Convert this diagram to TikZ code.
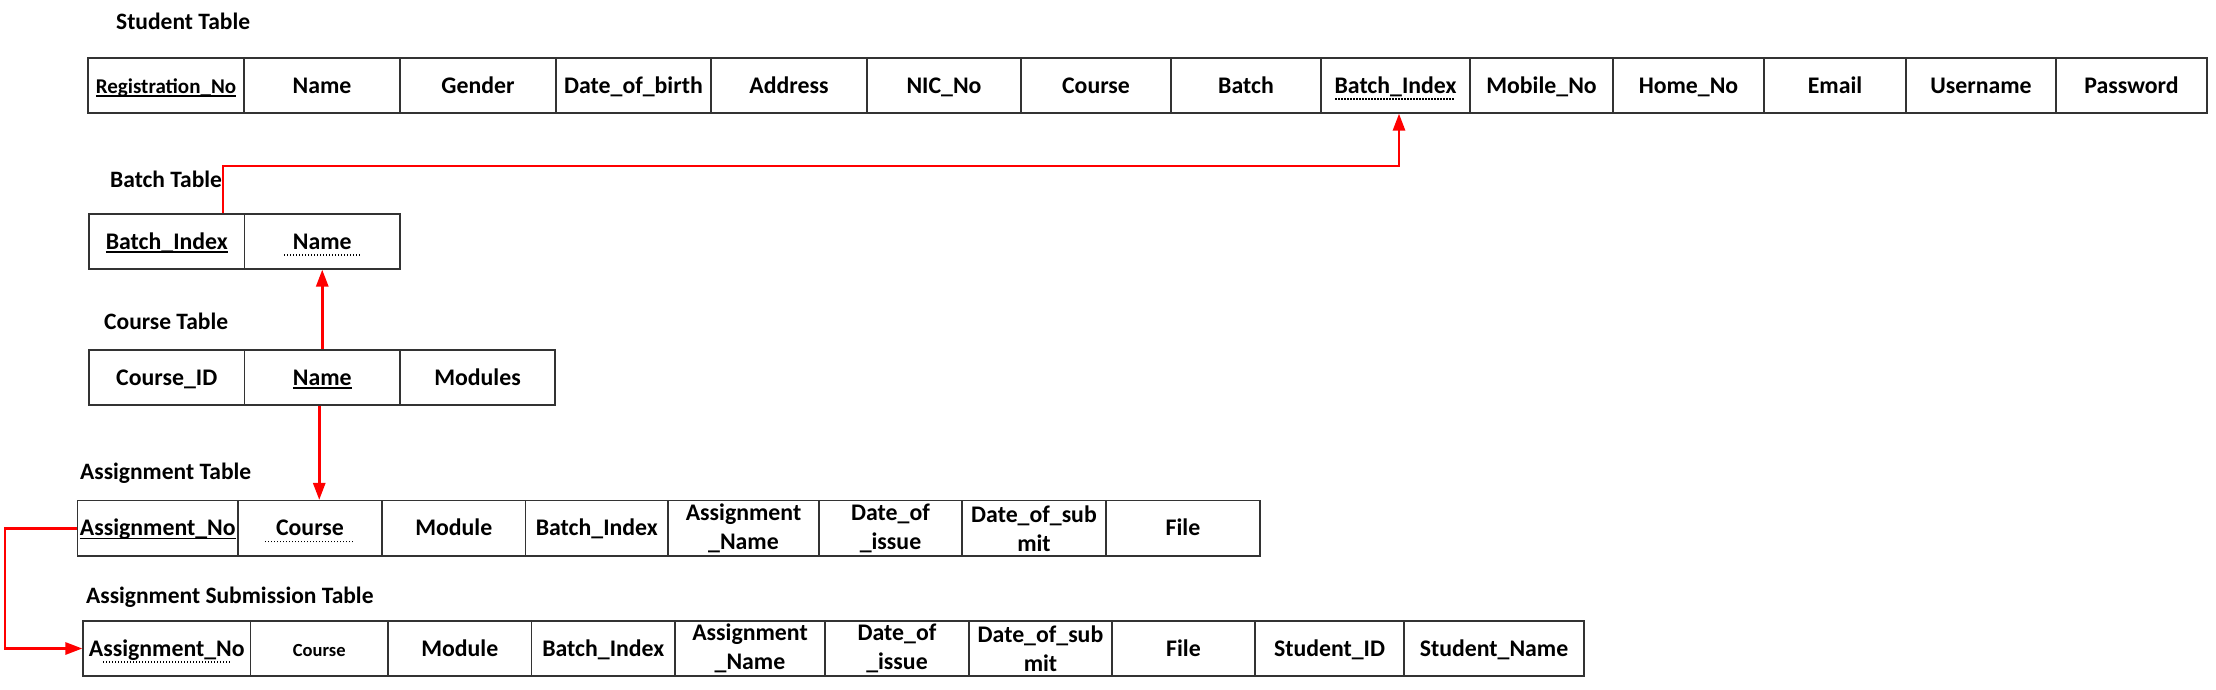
\documentclass[tikz,border=0pt]{standalone}
\usepackage{fontspec}
\setmainfont{Carlito}
\usetikzlibrary{arrows.meta}
\newsavebox\ulbox
\newcommand\solU[1]{\sbox\ulbox{#1}\leavevmode\rlap{\rule[-3.5pt]{\wd\ulbox}{1.4pt}}\usebox\ulbox}
\newcommand\dotU[2][0pt]{\sbox\ulbox{\kern#1#2\kern#1}\leavevmode\rlap{\hbox to\wd\ulbox{\leaders\hbox to 3pt{\hss\rule[-6.5pt]{1.6pt}{1.6pt}\hss}\hfill}}\usebox\ulbox}
\tikzset{
  cellbase/.style={draw=black!80, line width=1.2pt, inner sep=0pt, align=center, font=\fontsize{23.8}{29}\selectfont\bfseries},
  cell/.style={cellbase, text height=15pt, text depth=0pt},
  twoline/.style={cellbase},
  ttl/.style={anchor=base west, inner sep=0pt, font=\fontsize{23.5}{28}\selectfont\bfseries},
  rel/.style={draw=red, line width=2.8pt, -{Triangle[length=17pt,width=12pt]}},
}
\newcommand\fld[6][cell]{\node[#1, minimum width={(#3-#2)*1pt}, minimum height={(#5-#4)*1pt}] (#6) at ({(#2+#3)/2},{(#4+#5)/2})}
\begin{document}
\begin{tikzpicture}[x=1pt,y=-1pt]
\useasboundingbox (0,0) rectangle (2216,689);
% titles
\node[ttl] (tStudent) at (116,29.5) {Student Table};
\node[ttl] (tBatch) at (110,187.5) {Batch Table};
\node[ttl] (tCourse) at (104,329) {Course Table};
\node[ttl] (tAssign) at (80,479) {Assignment Table};
\node[ttl] (tSub) at (86,603) {Assignment Submission Table};
% Student table
\fld{88}{244}{58}{113}{sReg}{{\fontsize{21}{25}\selectfont\solU{Registration\_No}}};
\fld{244}{400}{58}{113}{sName}{Name};
\fld{400}{556}{58}{113}{sGender}{Gender};
\fld{556}{711}{58}{113}{sDob}{Date\_of\_birth};
\fld{711}{867}{58}{113}{sAddr}{Address};
\fld{867}{1021}{58}{113}{sNic}{NIC\_No};
\fld{1021}{1171}{58}{113}{sCourse}{Course};
\fld{1171}{1321}{58}{113}{sBatch}{Batch};
\fld{1321}{1470}{58}{113}{sBI}{\dotU{Batch\_Index}};
\fld{1470}{1613}{58}{113}{sMob}{Mobile\_No};
\fld{1613}{1764}{58}{113}{sHome}{Home\_No};
\fld{1764}{1906}{58}{113}{sEmail}{Email};
\fld{1906}{2056}{58}{113}{sUser}{Username};
\fld{2056}{2207}{58}{113}{sPass}{Password};
% Batch table
\fld{89}{244.5}{214}{269}{bIdx}{\solU{Batch\_Index}};
\fld{244.5}{400}{214}{269}{bName}{\dotU[10pt]{Name}};
% Course table
\fld{89}{244.5}{350}{405}{cId}{Course\_ID};
\fld{244.5}{400}{350}{405}{cName}{\solU{Name}};
\fld{400}{555}{350}{405}{cMod}{Modules};
% Assignment table
\fld{77.5}{238}{500.5}{556}{aNo}{\solU{Assignment\_No}};
\fld{238}{382}{500.5}{556}{aCourse}{\dotU[12pt]{Course}};
\fld{382}{525.5}{500.5}{556}{aMod}{Module};
\fld{525.5}{668}{500.5}{556}{aBI}{Batch\_Index};
\fld[twoline]{668}{819}{500.5}{556}{aAN}{Assignment\\\_Name};
\fld[twoline]{819}{962}{500.5}{556}{aDoi}{Date\_of\\\_issue};
\fld[twoline]{962}{1106}{500.5}{556}{aDos}{Date\_of\_sub\\mit};
\fld{1106}{1260}{500.5}{556}{aFile}{File};
% Assignment submission table
\fld{83}{250.5}{621}{676}{subNo}{\dotU[-13pt]{Assignment\_No}};
\fld{250.5}{388}{621}{676}{subCourse}{{\fontsize{18.5}{22}\selectfont Course}};
\fld{388}{531.5}{621}{676}{subMod}{Module};
\fld{531.5}{675}{621}{676}{subBI}{Batch\_Index};
\fld[twoline]{675}{825}{621}{676}{subAN}{Assignment\\\_Name};
\fld[twoline]{825}{969}{621}{676}{subDoi}{Date\_of\\\_issue};
\fld[twoline]{969}{1112}{621}{676}{subDos}{Date\_of\_sub\\mit};
\fld{1112}{1255}{621}{676}{subFile}{File};
\fld{1255}{1404}{621}{676}{subSid}{Student\_ID};
\fld{1404}{1584}{621}{676}{subSname}{Student\_Name};
% connectors
\coordinate (k1) at (223,166);
\draw[rel] (k1 |- bIdx.north) -- (k1) -| ([xshift=3.5pt]sBI.south);
\draw[rel] (cName.north) -- (bName.south);
\coordinate (c3) at ([xshift=-3pt]cName.south);
\draw[rel] (c3) -- (c3 |- aCourse.north);
\coordinate (lx) at (5,0);
\draw[rel] (aNo.west) -- (aNo.west -| lx) |- (subNo.west);
\end{tikzpicture}
\end{document}
